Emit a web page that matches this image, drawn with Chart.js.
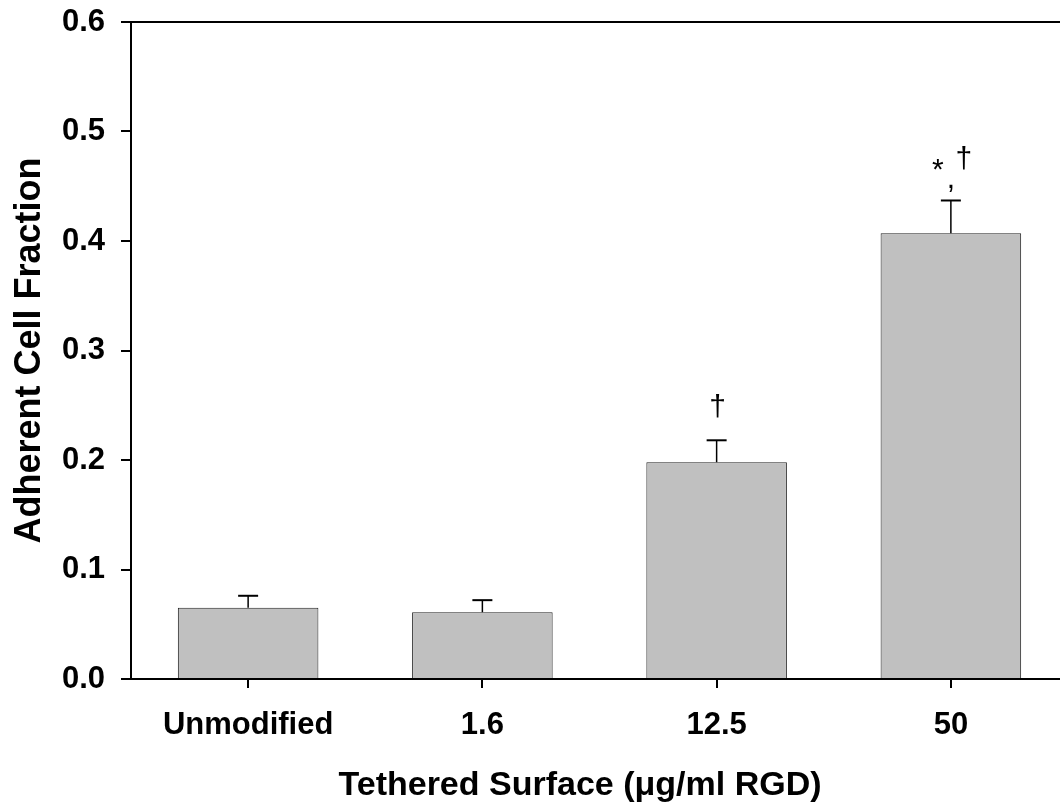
<!DOCTYPE html>
<html>
<head>
<meta charset="utf-8">
<style>
  html, body { margin: 0; padding: 0; background: #fff; overflow: hidden; }
  #wrap { width: 1060px; height: 811px; overflow: hidden; }
  canvas { display: block; }
</style>
<script src="https://cdn.jsdelivr.net/npm/chart.js@4/dist/chart.umd.min.js"></script>
</head>
<body>
<div id="wrap"><canvas id="chart" width="1070" height="811"></canvas></div>
<script>
// Adherent cell fraction on tethered RGD surfaces (mean + upper SEM)
const categories = ['Unmodified', '1.6', '12.5', '50'];
const adherentFraction = [0.065, 0.061, 0.198, 0.407];
const errorUpper = [0.011, 0.011, 0.020, 0.030];
const significance = ['', '', '\u2020', '*,\u2020'];
const yTickValues = [0.0, 0.1, 0.2, 0.3, 0.4, 0.5, 0.6];
const xTitle = 'Tethered Surface (\u03bcg/ml RGD)';
const yTitle = 'Adherent Cell Fraction';

const FONT = '"Liberation Sans", Arial, Helvetica, sans-serif';

// Upward-only error bars with a flat cap
const errorBars = {
  id: 'errorBars',
  afterDatasetsDraw(chart) {
    const { ctx, scales: { y } } = chart;
    const meta = chart.getDatasetMeta(0);
    ctx.save();
    ctx.strokeStyle = '#000';
    meta.data.forEach((bar, i) => {
      const capY = y.getPixelForValue(adherentFraction[i] + errorUpper[i]);
      ctx.lineWidth = 1.5;
      ctx.beginPath();
      ctx.moveTo(bar.x, bar.y);
      ctx.lineTo(bar.x, capY);
      ctx.stroke();
      ctx.lineWidth = 2;
      ctx.beginPath();
      ctx.moveTo(bar.x - 10, capY);
      ctx.lineTo(bar.x + 10, capY);
      ctx.stroke();
    });
    ctx.restore();
  }
};

// Significance marks above the error caps
const significanceMarks = {
  id: 'significanceMarks',
  afterDatasetsDraw(chart) {
    const { ctx, scales: { y } } = chart;
    const meta = chart.getDatasetMeta(0);
    ctx.save();
    ctx.fillStyle = '#000';
    ctx.textAlign = 'center';
    ctx.textBaseline = 'alphabetic';
    ctx.font = '30px ' + FONT;
    meta.data.forEach((bar, i) => {
      const text = significance[i];
      if (!text) return;
      const capY = y.getPixelForValue(adherentFraction[i] + errorUpper[i]);
      if (text.indexOf(',') < 0) {
        ctx.fillText(text, bar.x + 1, capY - 24);
      } else {
        const parts = text.split(',');
        ctx.fillText(parts[0], bar.x - 13, capY - 21);
        ctx.fillText(',', bar.x, capY - 12);
        ctx.fillText(parts[1], bar.x + 13, capY - 32);
      }
    });
    ctx.restore();
  }
};

// Top frame line of the plot area and the x-axis title
const frameAndTitle = {
  id: 'frameAndTitle',
  afterDraw(chart) {
    const { ctx, chartArea } = chart;
    ctx.save();
    ctx.strokeStyle = '#000';
    ctx.lineWidth = 2;
    ctx.beginPath();
    ctx.moveTo(chartArea.left, chartArea.top);
    ctx.lineTo(chartArea.right + 5, chartArea.top);
    ctx.stroke();
    ctx.fillStyle = '#000';
    ctx.font = 'bold 34px ' + FONT;
    ctx.textAlign = 'center';
    ctx.textBaseline = 'middle';
    ctx.fillText(xTitle, 580, 786);
    ctx.restore();
  }
};

new Chart(document.getElementById('chart'), {
  type: 'bar',
  data: {
    labels: categories,
    datasets: [{
      data: adherentFraction,
      backgroundColor: '#c0c0c0',
      borderColor: '#222',
      borderWidth: 1,
      barPercentage: 0.6,
      categoryPercentage: 1.0
    }]
  },
  options: {
    responsive: false,
    animation: false,
    layout: { padding: { top: 22, right: 2, left: 0, bottom: 0 } },
    plugins: { legend: { display: false }, tooltip: { enabled: false } },
    scales: {
      x: {
        offset: true,
        grid: { display: true, offset: false, drawOnChartArea: false, drawTicks: true, tickLength: 9, color: '#000', lineWidth: 2 },
        border: { display: true, color: '#000', width: 2 },
        ticks: { color: '#000', padding: 19, font: { family: FONT, size: 31, weight: 'bold' }, maxRotation: 0 },
        title: { display: false },
        afterFit(scale) {
          scale.height = 132;
          scale.paddingLeft = 0;
          scale.paddingRight = 0;
        }
      },
      y: {
        min: 0,
        max: 0.6,
        afterBuildTicks(scale) { scale.ticks = yTickValues.map(v => ({ value: v })); },
        grid: { display: true, drawOnChartArea: false, drawTicks: true, tickLength: 10, color: '#000', lineWidth: 2 },
        border: { display: true, color: '#000', width: 2 },
        ticks: {
          color: '#000',
          padding: 16,
          font: { family: FONT, size: 31, weight: 'bold' },
          callback: (v) => Number(v).toFixed(1)
        },
        title: {
          display: true,
          text: yTitle,
          color: '#000',
          font: { family: FONT, size: 36, weight: 'bold' },
          padding: { top: 8, bottom: 0 }
        },
        afterFit(scale) {
          scale.width = 131;
          scale.paddingTop = 0;
          scale.paddingBottom = 0;
        }
      }
    }
  },
  plugins: [errorBars, significanceMarks, frameAndTitle]
});
</script>
</body>
</html>
